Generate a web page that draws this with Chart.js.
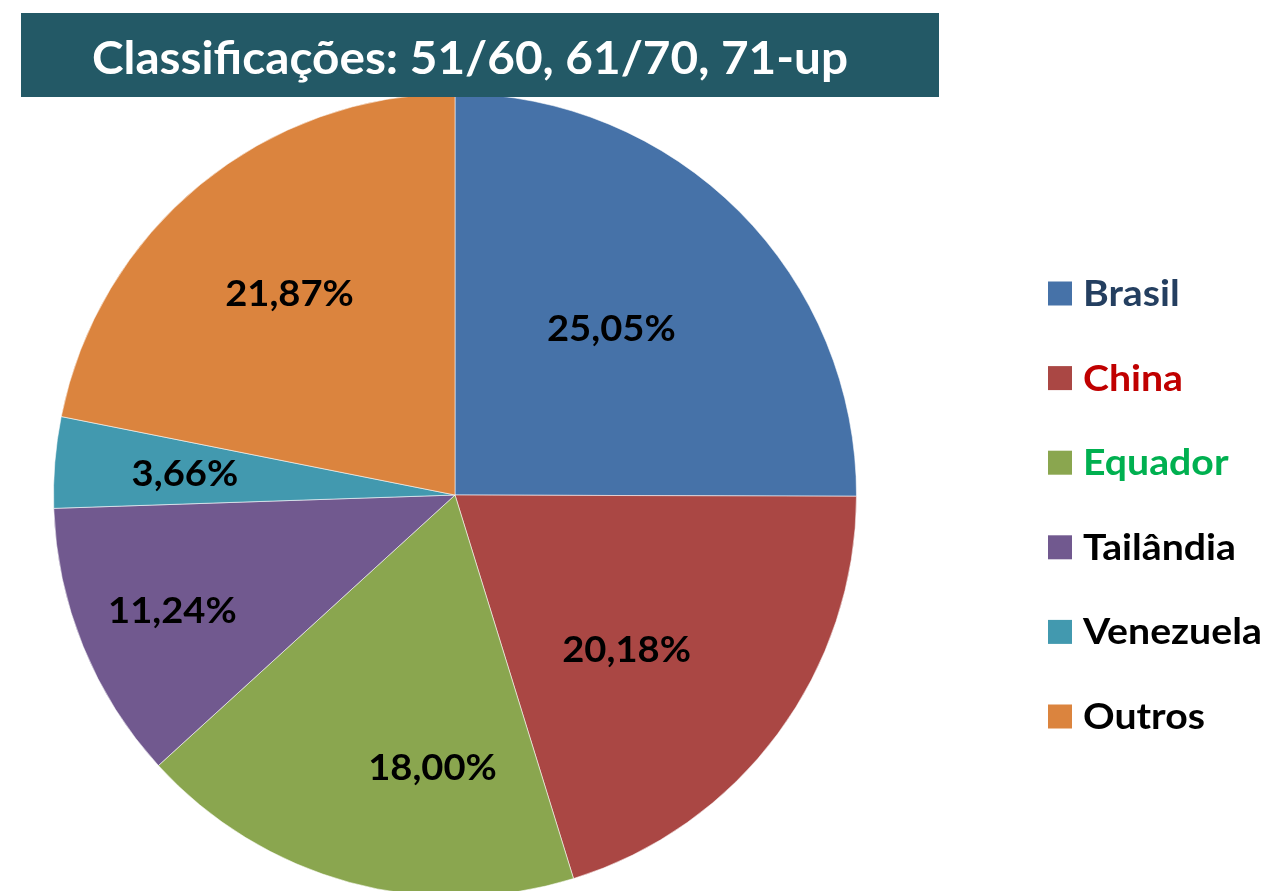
<!DOCTYPE html>
<html>
<head>
<meta charset="utf-8">
<script src="https://cdn.jsdelivr.net/npm/chart.js@4.4.1/dist/chart.umd.min.js"></script>
<style>
  html, body { margin: 0; padding: 0; background: #fff; overflow: hidden; }
  #grafico { display: block; }
</style>
</head>
<body>
<canvas id="grafico" width="1267" height="910"></canvas>
<script>
// dados do gráfico
const titulo = 'Classificações: 51/60, 61/70, 71-up';
const paises = ['Brasil', 'China', 'Equador', 'Tailândia', 'Venezuela', 'Outros'];
const percentuais = [25.05, 20.18, 18.00, 11.24, 3.66, 21.87];

const coresFatias = ['#4672A8', '#AA4744', '#8AA64F', '#71598F', '#4299AF', '#DB843E'];
const coresLegenda = ['#243F60', '#C00000', '#00B050', '#000000', '#000000', '#000000'];

const FONTE = 'Lato, "Open Sans", sans-serif';
let aperto = 1; // fator horizontal para imitar a Calibri

function texto(ctx, txt, x, y, px, cor, alinhar) {
    ctx.save();
    ctx.font = 'bold ' + px + 'px ' + FONTE;
    ctx.fillStyle = cor;
    ctx.textBaseline = 'alphabetic';
    const w = ctx.measureText(txt).width * aperto;
    let x0 = x;
    if (alinhar === 'center') x0 = x - w / 2;
    ctx.translate(x0, y);
    ctx.scale(aperto, 1);
    ctx.textAlign = 'left';
    ctx.fillText(txt, 0, 0);
    ctx.restore();
}

// posição dos rótulos (fração do raio, desvio do ângulo em graus)
const posRotulos = [[0.57, -2], [0.575, 5.5], [0.68, -10.5], [0.76, 0], [0.675, 0], [0.65, 0]];

const pluginExtras = {
    id: 'extras',
    afterDraw(chart) {
        const ctx = chart.ctx;
        // fator de aperto a partir do título
        ctx.save();
        ctx.font = 'bold 45px ' + FONTE;
        aperto = 756 / ctx.measureText(titulo).width;
        ctx.restore();

        // rótulos de porcentagem
        const meta = chart.getDatasetMeta(0);
        meta.data.forEach((arc, i) => {
            const p = arc.getProps(['x', 'y', 'startAngle', 'endAngle', 'outerRadius'], true);
            const ang = (p.startAngle + p.endAngle) / 2 + posRotulos[i][1] * Math.PI / 180;
            const r = p.outerRadius * posRotulos[i][0];
            const lx = p.x + Math.cos(ang) * r;
            const ly = p.y + Math.sin(ang) * r;
            const val = chart.data.datasets[0].data[i].toFixed(2).replace('.', ',') + '%';
            texto(ctx, val, lx, ly + 13, 36, '#000', 'center');
        });

        // caixa do título
        ctx.save();
        ctx.fillStyle = '#235966';
        ctx.fillRect(21, 13, 918, 84);
        ctx.restore();
        texto(ctx, titulo, 470, 74, 45, '#ffffff', 'center');

        // legenda
        chart.data.labels.forEach((rot, i) => {
            const cy = 293 + i * 84.6;
            ctx.fillStyle = coresFatias[i];
            ctx.fillRect(1048, cy - 11.5, 24, 24);
            texto(ctx, rot, 1083, cy + 13, 37, coresLegenda[i], 'left');
        });
    }
};

new Chart(document.getElementById('grafico'), {
    type: 'pie',
    data: {
        labels: paises,
        datasets: [{
            data: percentuais,
            backgroundColor: coresFatias,
            borderColor: 'rgba(255,255,255,0.55)',
            borderWidth: 1
        }]
    },
    options: {
        responsive: false,
        animation: false,
        layout: { padding: { left: 53, right: 410, top: 93, bottom: 13 } },
        plugins: {
            legend: { display: false },
            tooltip: { enabled: false }
        }
    },
    plugins: [pluginExtras]
});
</script>
</body>
</html>
